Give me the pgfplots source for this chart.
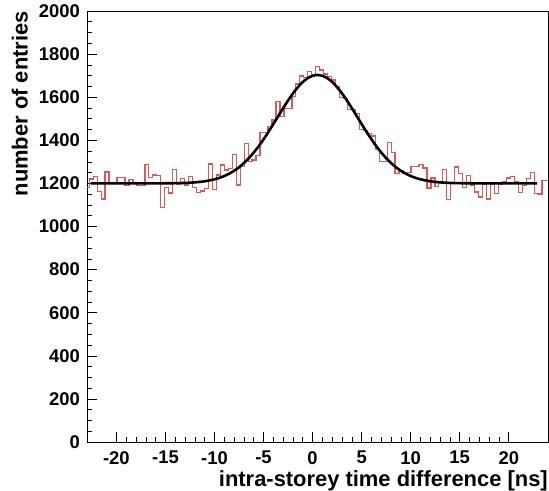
\documentclass[border=0pt]{standalone}
\usepackage{fontspec}
\setmainfont{Liberation Sans}
\usepackage{pgfplots}
\pgfplotsset{compat=1.18}
\definecolor{histred}{RGB}{218,90,90}
\begin{document}
\begin{tikzpicture}
\begin{axis}[
  scale only axis,
  width=461bp, height=431bp,
  xmin=-23, xmax=24, ymin=0, ymax=2000,
  xtick={-20,-15,...,20}, minor x tick num=4,
  ytick={0,200,...,2000}, minor y tick num=3,
  tick pos=left, tick align=inside,
  major tick length=10bp, minor tick length=5bp,
  tick style={black, line width=0.6bp},
  axis line style={black, line width=0.8bp},
  scaled ticks=false,
  /pgf/number format/assume math mode=true,
  /pgf/number format/1000 sep={},
  ticklabel style={font=\bfseries\fontsize{18.5}{18.5}\selectfont, inner sep=0pt},
  xticklabel style={anchor=north, yshift=-9bp},
  yticklabel style={anchor=east, xshift=-7bp},
  xlabel={intra-storey time difference [ns]},
  xlabel style={font=\bfseries\fontsize{22}{22}\selectfont, inner sep=0pt, at={(rel axis cs:1,0)}, anchor=north east, yshift=-28bp},
  clip=true,
]
\addplot[const plot, histred, line width=1.3bp] coordinates {
(-23.0,1181) (-22.77,1220) (-22.365,1231) (-21.96,1162) (-21.555,1127)
(-21.15,1253) (-20.745,1202) (-20.34,1198) (-19.935,1228) (-19.53,1228)
(-19.125,1191) (-18.72,1219) (-18.315,1205) (-17.91,1189) (-17.505,1189)
(-17.1,1287) (-16.695,1228) (-16.29,1239) (-15.885,1236) (-15.48,1087)
(-15.075,1181) (-14.67,1155) (-14.265,1264) (-13.86,1197) (-13.455,1222)
(-13.05,1192) (-12.645,1233) (-12.24,1180) (-11.835,1158) (-11.43,1165)
(-11.025,1177) (-10.62,1290) (-10.215,1172) (-9.81,1239) (-9.405,1285)
(-9.0,1262) (-8.595,1270) (-8.19,1335) (-7.785,1193) (-7.38,1278)
(-6.975,1386) (-6.57,1301) (-6.165,1309) (-5.76,1330) (-5.355,1435)
(-4.95,1435) (-4.545,1463) (-4.14,1494) (-3.735,1579) (-3.33,1510)
(-2.925,1548) (-2.52,1548) (-2.115,1602) (-1.71,1661) (-1.305,1698)
(-0.9,1690) (-0.495,1718) (-0.09,1705) (0.315,1742) (0.72,1726)
(1.125,1708) (1.53,1695) (1.935,1680) (2.34,1649) (2.745,1599)
(3.15,1595) (3.555,1544) (3.96,1544) (4.365,1525) (4.77,1451)
(5.175,1445) (5.58,1430) (5.985,1420) (6.39,1357) (6.795,1303)
(7.2,1303) (7.605,1389) (8.01,1344) (8.415,1247) (8.82,1259)
(9.225,1247) (9.63,1250) (10.035,1278) (10.44,1278) (10.845,1289)
(11.25,1272) (11.655,1179) (12.06,1225) (12.465,1185) (12.87,1210)
(13.275,1266) (13.68,1126) (14.085,1201) (14.49,1276) (14.895,1247)
(15.3,1182) (15.705,1236) (16.11,1193) (16.515,1160) (16.92,1137)
(17.325,1194) (17.73,1128) (18.135,1194) (18.54,1154) (18.945,1197)
(19.35,1207) (19.755,1225) (20.16,1232) (20.565,1210) (20.97,1159)
(21.375,1191) (21.78,1224) (22.185,1250) (22.59,1154) (22.995,1151)
(23.4,1213) (23.805,1213) (24.0,1213)
};
\addplot[smooth, black, line width=2.6bp] coordinates {
(-22.6,1200.0) (-19,1200.0) (-16,1200.2) (-14,1201.0) (-13,1202.2) (-12,1204.8)
(-11,1209.8) (-10,1218.9) (-9.5,1225.7) (-9,1234.4) (-8.5,1245.2) (-8,1258.7)
(-7.5,1274.9) (-7,1294.4) (-6.5,1317.1) (-6,1343.2) (-5.5,1372.4) (-5,1404.5)
(-4.5,1439.1) (-4,1475.4) (-3.5,1512.5) (-3,1549.4) (-2.5,1584.8) (-2,1617.7)
(-1.5,1646.6) (-1,1670.5) (-0.5,1688.3) (0,1699.3) (0.5,1703.0) (1,1699.3)
(1.5,1688.3) (2,1670.5) (2.5,1646.6) (3,1617.7) (3.5,1584.8) (4,1549.4)
(4.5,1512.5) (5,1475.4) (5.5,1439.1) (6,1404.5) (6.5,1372.4) (7,1343.2)
(7.5,1317.1) (8,1294.4) (8.5,1274.9) (9,1258.7) (9.5,1245.2) (10,1234.4)
(10.5,1225.7) (11,1218.9) (12,1209.8) (13,1204.8) (14,1202.2) (15,1201.0)
(17,1200.2) (20,1200.0) (22.9,1200.0)
};
\end{axis}
\node[rotate=90, anchor=south east, inner sep=0pt, font=\bfseries\fontsize{22}{22}\selectfont] at (-59bp,431bp) {number of entries};
\pgfresetboundingbox
\path[use as bounding box] (-87bp,-49bp) rectangle (462bp,442bp);
\end{tikzpicture}
\end{document}
